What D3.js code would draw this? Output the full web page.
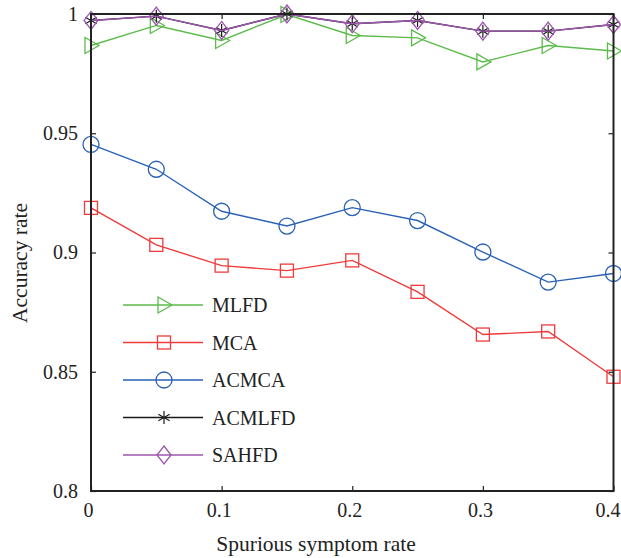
<!DOCTYPE html>
<html><head><meta charset="utf-8">
<script src="https://cdn.jsdelivr.net/npm/d3@7"></script>
<style>body{margin:0;background:#fff}svg{display:block}text{font-family:"Liberation Serif","DejaVu Serif",serif;fill:#222}</style>
</head><body><div id="chart"></div>
<script>
const xValues = [0, 0.05, 0.1, 0.15, 0.2, 0.25, 0.3, 0.35, 0.4];
const mlfd   = [0.9868, 0.9952, 0.9889, 0.9998, 0.9910, 0.9900, 0.9799, 0.9868, 0.9845];
const mca    = [0.9187, 0.9032, 0.8945, 0.8924, 0.8967, 0.8835, 0.8656, 0.8669, 0.8479];
const acmca  = [0.9453, 0.9349, 0.9173, 0.9111, 0.9188, 0.9134, 0.9002, 0.8876, 0.8912];
const acmlfd = [0.9973, 0.9991, 0.9931, 1.0000, 0.9959, 0.9973, 0.9928, 0.9928, 0.9956];
const sahfd  = [0.9973, 0.9991, 0.9931, 1.0000, 0.9959, 0.9973, 0.9928, 0.9928, 0.9956];
const seriesNames = ["MLFD", "MCA", "ACMCA", "ACMLFD", "SAHFD"];
const xTicks = [0, 0.1, 0.2, 0.3, 0.4];
const yTicks = [0.8, 0.85, 0.9, 0.95, 1];
const xLabel = "Spurious symptom rate";
const yLabel = "Accuracy rate";

const series = [
  {name: seriesNames[0], values: mlfd,   color: "#5dbb4c", marker: "tri"},
  {name: seriesNames[1], values: mca,    color: "#ee3b3b", marker: "square"},
  {name: seriesNames[2], values: acmca,  color: "#2a62b3", marker: "circle"},
  {name: seriesNames[3], values: acmlfd, color: "#1a1a1a", marker: "star"},
  {name: seriesNames[4], values: sahfd,  color: "#9d55ad", marker: "diamond"}
];

const W = 621, H = 558;
const m = {left: 91, right: 7.5, top: 14, bottom: 67};
const svg = d3.select("#chart").append("svg").attr("width", W).attr("height", H);
const x = d3.scaleLinear().domain([0, 0.4]).range([m.left, W - m.right]);
const y = d3.scaleLinear().domain([0.8, 1]).range([H - m.bottom, m.top]);

function drawMarker(g, type, color) {
  if (type === "tri") {
    g.append("path").attr("d", "M-6,-8 L8,0 L-6,8 Z").attr("fill", "none").attr("stroke", color).attr("stroke-width", 1.3);
  } else if (type === "square") {
    g.append("rect").attr("x", -6.5).attr("y", -6.5).attr("width", 13).attr("height", 13).attr("fill", "none").attr("stroke", color).attr("stroke-width", 1.3);
  } else if (type === "circle") {
    g.append("circle").attr("r", 8).attr("fill", "none").attr("stroke", color).attr("stroke-width", 1.3);
  } else if (type === "star") {
    const r = 6.5;
    [[0, -r, 0, r], [-r * 0.87, -r * 0.5, r * 0.87, r * 0.5], [-r * 0.87, r * 0.5, r * 0.87, -r * 0.5]].forEach(s => {
      g.append("line").attr("x1", s[0]).attr("y1", s[1]).attr("x2", s[2]).attr("y2", s[3]).attr("stroke", color).attr("stroke-width", 1.2);
    });
  } else if (type === "diamond") {
    g.append("path").attr("d", "M0,-9 L7,0 L0,9 L-7,0 Z").attr("fill", "none").attr("stroke", color).attr("stroke-width", 1.3);
  }
}

const axBottom = d3.axisBottom(x).tickValues(xTicks).tickSize(-5).tickPadding(12).tickFormat(d3.format("~g"));
const axTop = d3.axisTop(x).tickValues(xTicks).tickSize(-5).tickFormat("");
const axLeft = d3.axisLeft(y).tickValues(yTicks).tickSize(-5).tickPadding(13).tickFormat(d3.format("~g"));
const axRight = d3.axisRight(y).tickValues(yTicks).tickSize(-5).tickFormat("");

function styleAxis(g) {
  g.select(".domain").remove();
  g.selectAll(".tick line").attr("stroke", "#222").attr("stroke-width", 1.2);
  g.selectAll(".tick text").style("font-family", "'Liberation Serif',serif").style("font-size", "20px").attr("fill", "#222");
}
const gx = svg.append("g").attr("transform", `translate(0,${H - m.bottom})`).call(axBottom).call(styleAxis);
gx.selectAll(".tick text").attr("dx", (d, i, n) => i === n.length - 1 ? "-6" : "-3");
svg.append("g").attr("transform", `translate(0,${m.top})`).call(axTop).call(styleAxis);
svg.append("g").attr("transform", `translate(${m.left},0)`).call(axLeft).call(styleAxis);
svg.append("g").attr("transform", `translate(${W - m.right},0)`).call(axRight).call(styleAxis);

const line = d3.line().x((d, i) => x(xValues[i])).y(d => y(d));
series.forEach(s => {
  svg.append("path").datum(s.values).attr("d", line).attr("fill", "none").attr("stroke", s.color).attr("stroke-width", 1.4);
  s.values.forEach((v, i) => {
    const g = svg.append("g").attr("transform", `translate(${x(xValues[i])},${y(v)})`);
    drawMarker(g, s.marker, s.color);
  });
});

svg.append("rect").attr("x", m.left).attr("y", m.top).attr("width", W - m.right - m.left).attr("height", H - m.bottom - m.top)
  .attr("fill", "none").attr("stroke", "#222").attr("stroke-width", 2);

const legY = [305, 342.5, 380, 417.5, 455];
series.forEach((s, i) => {
  const g = svg.append("g");
  g.append("line").attr("x1", 123).attr("x2", 203).attr("y1", legY[i]).attr("y2", legY[i]).attr("stroke", s.color).attr("stroke-width", 1.4);
  const mg = g.append("g").attr("transform", `translate(164,${legY[i]})`);
  drawMarker(mg, s.marker, s.color);
  g.append("text").attr("x", 212).attr("y", legY[i] + 7).style("font-size", "20px").text(s.name);
});

svg.append("text").attr("x", 316).attr("y", 551).attr("text-anchor", "middle").style("font-size", "21.5px").text(xLabel);
svg.append("text").attr("transform", `translate(27,263) rotate(-90)`).attr("text-anchor", "middle").style("font-size", "21.5px").text(yLabel);
</script></body></html>
